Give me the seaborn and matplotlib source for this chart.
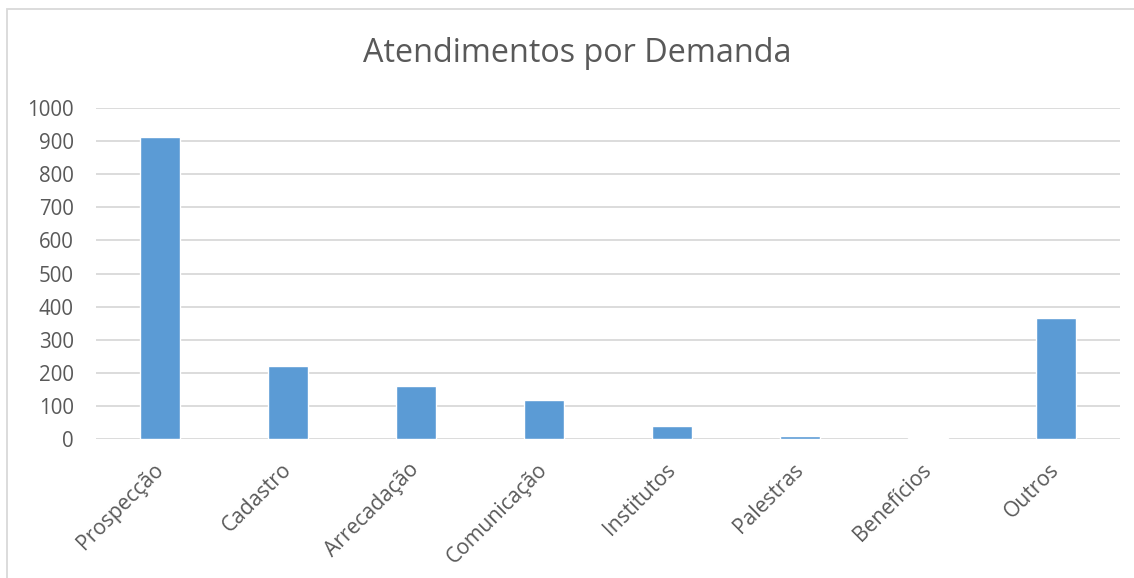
import matplotlib

matplotlib.use("Agg")
import matplotlib.pyplot as plt
import pandas as pd
import seaborn as sns
from matplotlib.patches import Rectangle

categorias = [
    "Prospecção",
    "Cadastro",
    "Arrecadação",
    "Comunicação",
    "Institutos",
    "Palestras",
    "Benefícios",
    "Outros",
]
atendimentos = [912, 222, 160, 119, 39, 8, 2, 366]
y_ticks = [0, 100, 200, 300, 400, 500, 600, 700, 800, 900, 1000]

TEXT = "#595959"
GRID = "#D9D9D9"
BAR = "#5B9BD5"

sns.set_theme(style="white")
plt.rcParams["font.family"] = ["Open Sans", "DejaVu Sans"]

df = pd.DataFrame({"Demanda": categorias, "Atendimentos": atendimentos})

fig = plt.figure(figsize=(11.34, 5.78), dpi=100)
ax = fig.add_axes([96 / 1134, 1 - 439 / 578, 1024 / 1134, 331 / 578])

sns.barplot(
    data=df,
    x="Demanda",
    y="Atendimentos",
    color=BAR,
    width=0.31,
    saturation=1,
    ax=ax,
)

ax.set_ylim(0, 1000)
ax.set_xlim(-0.5, len(categorias) - 0.5)
ax.set_yticks(y_ticks)
ax.set_yticklabels([str(v) for v in y_ticks], fontsize=14.8, color=TEXT)
ax.yaxis.grid(True, color=GRID, linewidth=1.3)
ax.set_axisbelow(True)
for s in ax.spines.values():
    s.set_visible(False)
ax.tick_params(axis="y", length=0, pad=16)
ax.tick_params(axis="x", length=0, pad=20)
ax.set_xlabel("")
ax.set_ylabel("")

ax.set_xticks(range(len(categorias)))
ax.set_xticklabels(
    categorias,
    rotation=45,
    ha="right",
    va="center",
    rotation_mode="anchor",
    fontsize=15.2,
    color=TEXT,
)

fig.text(
    577 / 1134,
    1 - 53 / 578,
    "Atendimentos por Demanda",
    ha="center",
    va="center",
    fontsize=23.3,
    color=TEXT,
)

# moldura do gráfico
fig.patches.append(
    Rectangle(
        (7 / 1134, -0.02),
        1.1,
        1 - 9 / 578 + 0.02,
        transform=fig.transFigure,
        fill=False,
        edgecolor=GRID,
        linewidth=1.3,
    )
)

fig.savefig("out.png", dpi=100)
plt.close(fig)
